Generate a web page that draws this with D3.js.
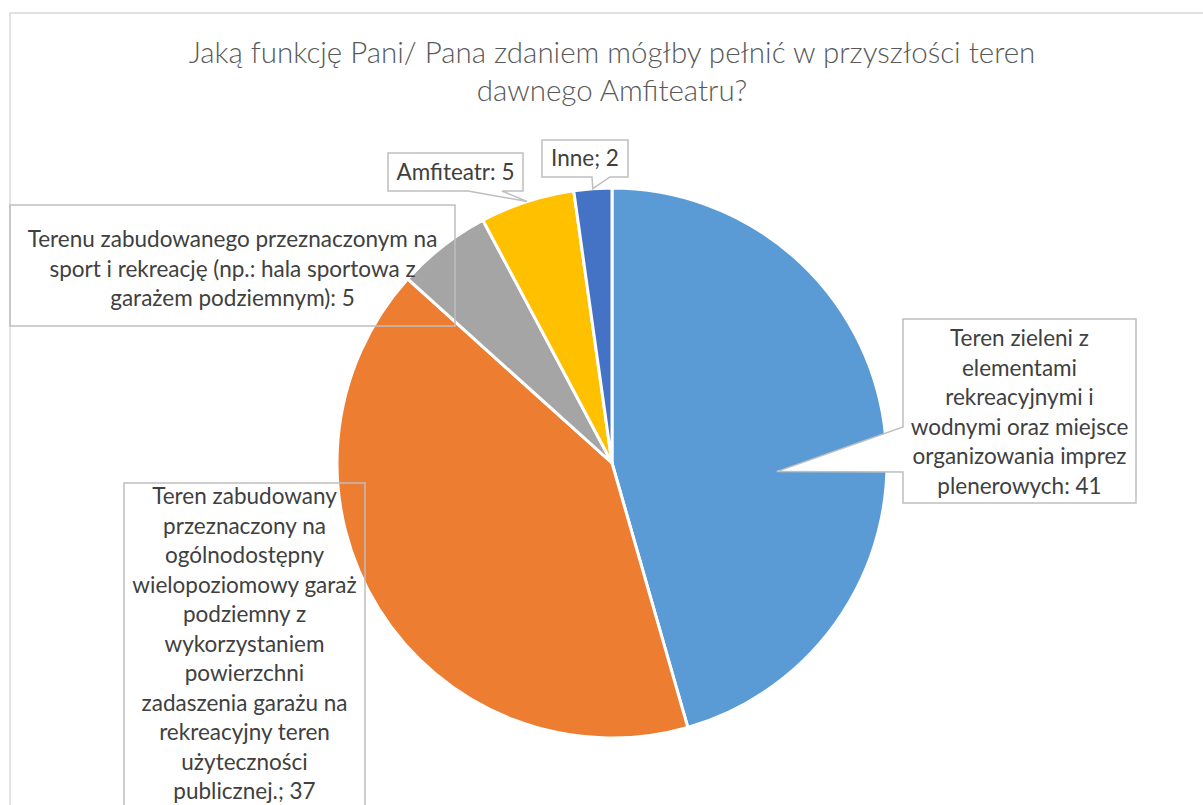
<!DOCTYPE html>
<html>
<head>
<meta charset="utf-8">
<script src="https://cdn.jsdelivr.net/npm/d3@7"></script>
<style>
  html, body { margin: 0; padding: 0; background: #fff; }
  svg { display: block; }
  text { font-family: Lato, "Open Sans", sans-serif; }
</style>
</head>
<body>
<div class="main"></div>
<script>
let titleLines = ['Jaką funkcję Pani/ Pana zdaniem mógłby pełnić w przyszłości teren', 'dawnego Amfiteatru?']

let categories = [
  'Teren zieleni z elementami rekreacyjnymi i wodnymi oraz miejsce organizowania imprez plenerowych',
  'Teren zabudowany przeznaczony na ogólnodostępny wielopoziomowy garaż podziemny z wykorzystaniem powierzchni zadaszenia garażu na rekreacyjny teren użyteczności publicznej.',
  'Terenu zabudowanego przeznaczonym na sport i rekreację (np.: hala sportowa z garażem podziemnym)',
  'Amfiteatr',
  'Inne'
]
let values = [41, 37, 5, 5, 2]
let separators = [': ', '; ', ': ', ': ', '; ']
let colors = ['#5b9bd5', '#ed7d31', '#a5a5a5', '#ffc000', '#4472c4']

let width = 1203, height = 805
let center = {x: 612, y: 463}
let radius = 275
let lineH = 29.5
let labelSize = 22.5
let titleSize = 29.5

// label boxes: position, words per line, pointer wedge and where it points on the slice
let callouts = [
  {x: 903, y: 319, w: 233, h: 184, first: 27, words: [3, 1, 2, 3, 2, 2], fill: '#fff',
   wedge: {side: 'left', from: 108, to: 153}, tip: {t: 0.567, k: 0.6}},
  {x: 124, y: 483, w: 241, h: 340, first: 21, words: [2, 2, 1, 2, 2, 1, 1, 3, 2, 1, 2], fill: 'none'},
  {x: 10, y: 205, w: 445, h: 121, first: 42, words: [4, 7, 3], fill: 'none'},
  {x: 388, y: 153, w: 135, h: 38, first: 27, words: [2], fill: '#fff',
   wedge: {side: 'bottom', from: 80, to: 114}, tip: {t: 0.5, k: 1}},
  {x: 542, y: 140, w: 86, h: 37, first: 26, words: [2], fill: '#fff',
   wedge: {side: 'bottom', from: 50, to: 68}, tip: {t: 0.5, k: 1}}
]

let svg = d3.select('.main').append('svg')
  .attr('width', width)
  .attr('height', height)

// chart area border (runs off the right and bottom)
svg.append('rect')
  .attr('x', 10).attr('y', 13)
  .attr('width', 1400).attr('height', 1000)
  .attr('fill', 'none')
  .attr('stroke', '#d9d9d9')
  .attr('stroke-width', 1.5)

svg.append('g')
  .selectAll('text').data(titleLines).enter().append('text')
    .attr('x', center.x)
    .attr('y', (d, i) => 63 + i * 38)
    .attr('text-anchor', 'middle')
    .attr('font-size', titleSize)
    .attr('font-weight', 300)
    .attr('fill', '#595959')
    .text(d => d)

let pie = d3.pie().sort(null).value(d => d)
let arcs = pie(values)
let arc = d3.arc().innerRadius(0).outerRadius(radius)

svg.append('g')
  .attr('transform', `translate(${center.x}, ${center.y})`)
  .selectAll('path').data(arcs).enter().append('path')
    .attr('d', arc)
    .attr('fill', (d, i) => colors[i])
    .attr('stroke', '#fff')
    .attr('stroke-width', 3)
    .attr('stroke-linejoin', 'round')

let tipPoint = (d, tip) => {
  let a = d.startAngle + tip.t * (d.endAngle - d.startAngle)
  return [center.x + tip.k * radius * Math.sin(a), center.y - tip.k * radius * Math.cos(a)]
}

let calloutPath = (c, d) => {
  let x0 = c.x, y0 = c.y, x1 = c.x + c.w, y1 = c.y + c.h
  if (!c.wedge) return `M${x0},${y0}H${x1}V${y1}H${x0}Z`
  let [tx, ty] = tipPoint(d, c.tip)
  if (c.wedge.side === 'left') {
    return `M${x0},${y0}H${x1}V${y1}H${x0}V${y0 + c.wedge.to}L${tx},${ty}L${x0},${y0 + c.wedge.from}Z`
  }
  return `M${x0},${y0}H${x1}V${y1}H${x0 + c.wedge.to}L${tx},${ty}L${x0 + c.wedge.from},${y1}H${x0}Z`
}

let labelLines = (i) => {
  let words = (categories[i] + separators[i] + values[i]).split(' ')
  let lines = [], k = 0
  callouts[i].words.forEach(n => {
    lines.push(words.slice(k, k + n).join(' '))
    k += n
  })
  return lines
}

let labels = svg.append('g')
  .selectAll('g').data(arcs).enter().append('g')

labels.append('path')
  .attr('d', (d, i) => calloutPath(callouts[i], d))
  .attr('fill', (d, i) => callouts[i].fill)
  .attr('stroke', '#bfbfbf')
  .attr('stroke-width', 1.5)

labels.each(function (d, i) {
  let c = callouts[i]
  d3.select(this).selectAll('text').data(labelLines(i)).enter().append('text')
    .attr('x', c.x + c.w / 2)
    .attr('y', (t, j) => c.y + c.first + j * lineH)
    .attr('text-anchor', 'middle')
    .attr('font-size', labelSize)
    .attr('fill', '#404040')
    .text(t => t)
})
</script>
</body>
</html>
